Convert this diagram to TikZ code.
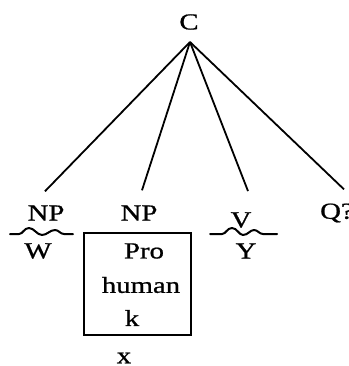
\documentclass[tikz,border=0pt]{standalone}
\usepackage{fontspec}
\setmainfont{Liberation Serif}
\newfontfamily\heavyserif{Liberation Serif}[FakeBold=0.8]
\newcommand\hstr[1]{\scalebox{1.25}[1]{#1}}
\begin{document}
\begin{tikzpicture}[x=1pt,y=-1pt,
  lbl/.style={inner sep=0pt,font=\heavyserif\fontsize{23}{26}\selectfont},
  edge/.style={line width=1.8pt},
  wave/.style={line width=2pt,line join=round,line cap=round},
  boxstyle/.style={draw,line width=2.6pt,minimum width=107pt,minimum height=102pt,inner sep=0pt}]
\useasboundingbox (0,0) rectangle (348,366);
\node[lbl] (C) at (189,22) {\hstr{C}};
\coordinate (apex) at (190,42);
\node[lbl] (np1) at (46,213) {\hstr{NP}};
\node[lbl] (np2) at (139,213) {\hstr{NP}};
\node[lbl] (v) at (241,220) {\hstr{V}};
\node[lbl,anchor=west] (q) at (320,213) {\hstr{Q?}};
\node[lbl] (w) at (38,251) {\hstr{W}};
\node[lbl] (y) at (246,251) {\hstr{Y}};
\node[boxstyle] (box) at (137.5,284) {};
\node[lbl] (pro) at (144,251) {\hstr{Pro}};
\node[lbl] (human) at (141,285) {\hstr{human}};
\node[lbl] (k) at (132,318) {\hstr{k}};
\node[lbl] (x) at (124,358) {\hstr{x}};
\draw[edge] (apex) -- ([xshift=-1pt,yshift=14pt]np1.north);
\draw[edge] (apex) -- ([xshift=3pt,yshift=15pt]np2.north);
\draw[edge] (apex) -- ([xshift=7pt,yshift=21pt]v.north);
\draw[edge] (apex) -- ([xshift=7pt,yshift=14pt]q.north);
\draw[wave] (10,234) -- (19,234) .. controls (23,234) and (24,228) .. (29,228)
  .. controls (34,228) and (37,235) .. (42,235)
  .. controls (47,235) and (50,230) .. (55,230)
  .. controls (59,230) and (60,234) .. (64,234) -- (73,234);
\draw[wave] (210,234) -- (222,234) .. controls (226,234) and (227,228) .. (232,228)
  .. controls (237,228) and (239,235) .. (243,235)
  .. controls (248,235) and (250,230) .. (254,230)
  .. controls (258,230) and (259,234) .. (263,234) -- (277,234);
\end{tikzpicture}
\end{document}
